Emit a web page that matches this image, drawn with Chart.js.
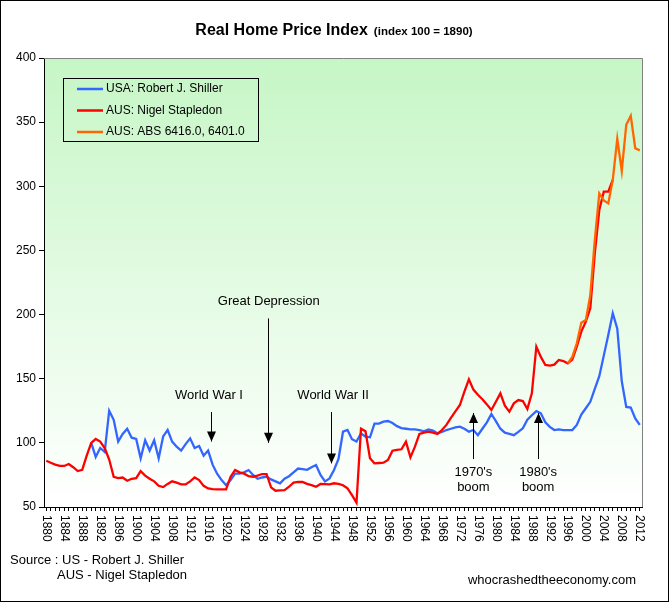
<!DOCTYPE html>
<html>
<head>
<meta charset="utf-8">
<title>Real Home Price Index</title>
<script src="https://cdn.jsdelivr.net/npm/chart.js@4.4.0/dist/chart.umd.min.js"></script>
<style>
  html, body { margin: 0; padding: 0; background: #fff; }
  #chart { display: block; }
</style>
</head>
<body>
<canvas id="chart" width="669" height="602"></canvas>
<script>
'use strict';

// years on the x axis, one category per year
let firstYear = 1880;
let lastYear = 2012;
let labelStep = 4;

// y axis ticks
let yTicks = [50, 100, 150, 200, 250, 300, 350, 400];

// USA: Robert J. Shiller, 1890 - 2012
let usaStart = 1890;
let usaShiller = [
  100, 89, 96, 93, 125, 118, 101, 107, 111, 104,
  103, 88, 102, 94, 102, 88, 105, 110, 101, 97,
  94, 99, 103.5, 96, 97.5, 90, 94, 83, 76, 71,
  67, 71, 76, 76, 77, 78.8, 75, 72, 73, 73.6,
  71.5, 70, 68.5, 72, 74, 77, 80, 79.5, 79, 81,
  82.7, 75, 70, 72.3, 78.8, 87.4, 108.7, 110, 102.8, 101,
  107.4, 104.8, 104.3, 115, 115, 116.5, 117, 115.5, 113, 111.5,
  111, 110.5, 110.5, 110, 109, 110.5, 109.5, 107.5, 108.5, 110,
  111, 112, 112.6, 111, 108.7, 110, 106, 111, 116, 122.5,
  117, 111, 108, 107, 106, 108.5, 111.3, 118, 121.5, 124.8,
  123, 116, 112.5, 110, 110.5, 110, 110, 110, 114, 122,
  127, 132, 142, 152, 168, 184, 201, 189, 148, 128,
  127.5, 119, 114
];

// AUS: Nigel Stapledon, 1880 - 2006
let ausStart = 1880;
let ausStapledon = [
  86, 84.5, 83, 82, 82, 83.5, 81, 78, 79, 90,
  100, 103, 101, 96, 87, 73.5, 72.5, 73, 70.5, 72,
  72.5, 78, 74.5, 72, 70, 66.5, 65.5, 68, 70, 69,
  67.6, 67.6, 70, 73, 71, 66.5, 64.5, 64, 63.8, 63.8,
  63.8, 73.6, 78.8, 77, 76, 74, 73.6, 74.5, 75.7, 75.7,
  65.3, 62.7, 63, 63.2, 65.8, 69, 69.5, 69.5, 68, 67,
  65.8, 68, 67.8, 67.6, 68.5, 68, 67, 64.5, 59.3, 53.4,
  111, 109, 88, 84, 84.3, 84.5, 86.6, 93.9, 94.5, 95,
  101, 88.7, 97, 107, 108, 108.7, 108, 107, 110, 114,
  119.5, 124.5, 129.5, 140, 149.5, 141.5, 137.5, 134, 130, 125.6,
  132, 138.6, 129, 124.3, 130.8, 133.4, 132.6, 126.4, 138.6, 175,
  167, 160.7, 160.2, 161, 164.6, 163.8, 162, 165, 175, 186.7,
  194.5, 205, 247.7, 281.5, 295.8, 295.8, 305
];

// AUS: ABS 6416.0, 6401.0, 1996 - 2012
let absStart = 1996;
let ausAbs = [
  162, 167, 177.6, 193.6, 195.7, 215, 258, 294.5, 289, 286.7,
  305, 337, 312, 348, 355, 329.6, 328
];

let years = [];
for (let y = firstYear; y <= lastYear; y++) {
  years.push(String(y));
}

function padSeries(start, values) {
  let out = [];
  for (let y = firstYear; y <= lastYear; y++) {
    let i = y - start;
    out.push(i >= 0 && i < values.length ? values[i] : null);
  }
  return out;
}

// text notes on the plot: x in years, y in index units
let notes = [
  { lines: ['World War I'], x: 1916.2, y: 137, arrowX: 1916.6, from: 124, to: 101 },
  { lines: ['Great Depression'], x: 1929.5, y: 210.5, arrowX: 1929.3, from: 197, to: 100 },
  { lines: ['World War II'], x: 1943.8, y: 137, arrowX: 1943.4, from: 124, to: 84 },
  { lines: ["1970's", 'boom'], x: 1975, y: 77.3, arrowX: 1975, from: 87.4, to: 123.3 },
  { lines: ["1980's", 'boom'], x: 1989.4, y: 77.3, arrowX: 1989.4, from: 87.4, to: 123.3 }
];

let fontFamily = '"Liberation Sans", Arial, sans-serif';
let blue = '#3366FF';
let red = '#FF0000';
let orange = '#FF6600';
let plotTop = 'rgb(198, 246, 198)';

function yearIndex(year) {
  return year - firstYear;
}

function drawArrow(ctx, x, y1, y2) {
  ctx.beginPath();
  ctx.moveTo(x, y1);
  ctx.lineTo(x, y2);
  ctx.stroke();
  let dir = y2 > y1 ? 1 : -1;
  ctx.beginPath();
  ctx.moveTo(x, y2);
  ctx.lineTo(x - 4.5, y2 - dir * 10);
  ctx.lineTo(x + 4.5, y2 - dir * 10);
  ctx.closePath();
  ctx.fill();
}

let decorPlugin = {
  id: 'decor',
  beforeDraw(chart) {
    let ctx = chart.ctx;
    let a = chart.chartArea;
    ctx.save();
    ctx.fillStyle = '#ffffff';
    ctx.fillRect(0, 0, chart.width, chart.height);
    let g = ctx.createLinearGradient(0, a.top, 0, a.bottom);
    g.addColorStop(0, plotTop);
    g.addColorStop(1, '#ffffff');
    ctx.fillStyle = g;
    ctx.fillRect(a.left, a.top, a.right - a.left, a.bottom - a.top);
    ctx.restore();
  },
  afterDraw(chart) {
    let ctx = chart.ctx;
    let a = chart.chartArea;
    let xs = chart.scales.x;
    let ys = chart.scales.y;
    ctx.save();

    // grey frame on top and right of the plot
    ctx.strokeStyle = '#808080';
    ctx.lineWidth = 1;
    ctx.beginPath();
    ctx.moveTo(a.left, a.top + 0.5);
    ctx.lineTo(a.right + 0.5, a.top + 0.5);
    ctx.lineTo(a.right + 0.5, a.bottom);
    ctx.stroke();

    // title
    ctx.fillStyle = '#000';
    ctx.textBaseline = 'alphabetic';
    let t1 = 'Real Home Price Index';
    let t2 = '(index 100 = 1890)';
    ctx.font = 'bold 16px ' + fontFamily;
    let w1 = ctx.measureText(t1).width;
    ctx.font = 'bold 11.5px ' + fontFamily;
    let w2 = ctx.measureText(t2).width;
    let tx = 334 - (w1 + 6 + w2) / 2;
    ctx.font = 'bold 16px ' + fontFamily;
    ctx.textAlign = 'left';
    ctx.fillText(t1, tx, 35);
    ctx.font = 'bold 11.5px ' + fontFamily;
    ctx.fillText(t2, tx + w1 + 6, 35);

    // x labels, turned to read downwards
    ctx.font = '12px ' + fontFamily;
    ctx.textBaseline = 'middle';
    for (let i = 0; i < years.length; i += labelStep) {
      let x = xs.getPixelForValue(i);
      ctx.save();
      ctx.translate(x, a.bottom + 8);
      ctx.rotate(Math.PI / 2);
      ctx.textAlign = 'left';
      ctx.fillText(years[i], 0, 0);
      ctx.restore();
    }

    // legend box
    let lx = 63, ly = 78, lw = 195, lh = 63;
    ctx.strokeStyle = '#000';
    ctx.lineWidth = 1;
    ctx.strokeRect(lx + 0.5, ly + 0.5, lw, lh);
    ctx.font = '12px ' + fontFamily;
    ctx.textAlign = 'left';
    ctx.textBaseline = 'middle';
    let legendOrder = [0, 1, 2];
    legendOrder.forEach((di, k) => {
      let ds = chart.data.datasets[di];
      let yy = ly + 11 + k * 21.5;
      ctx.strokeStyle = ds.borderColor;
      ctx.lineWidth = 2.5;
      ctx.beginPath();
      ctx.moveTo(lx + 14, yy);
      ctx.lineTo(lx + 40, yy);
      ctx.stroke();
      ctx.fillStyle = '#000';
      ctx.fillText(ds.label, lx + 43, yy);
    });

    // notes with arrows
    ctx.strokeStyle = '#000';
    ctx.fillStyle = '#000';
    ctx.lineWidth = 1;
    ctx.font = '13px ' + fontFamily;
    ctx.textAlign = 'center';
    ctx.textBaseline = 'middle';
    notes.forEach(n => {
      let cx = xs.getPixelForValue(yearIndex(n.x));
      let cy = ys.getPixelForValue(n.y);
      n.lines.forEach((line, k) => {
        ctx.fillText(line, cx, cy + k * 15);
      });
      let ax = Math.round(xs.getPixelForValue(yearIndex(n.arrowX))) + 0.5;
      drawArrow(ctx, ax, ys.getPixelForValue(n.from), ys.getPixelForValue(n.to));
    });

    // source lines
    ctx.font = '13px ' + fontFamily;
    ctx.textAlign = 'left';
    ctx.textBaseline = 'middle';
    ctx.fillText('Source : US - Robert J. Shiller', 10, 560);
    ctx.fillText('AUS - Nigel Stapledon', 57, 575);
    ctx.textAlign = 'right';
    ctx.fillText('whocrashedtheeconomy.com', 636, 580);

    // outer frame
    ctx.strokeStyle = '#000';
    ctx.lineWidth = 1;
    ctx.strokeRect(0.5, 0.5, chart.width - 1, chart.height - 1);
    ctx.restore();
  }
};

let ctx = document.getElementById('chart').getContext('2d');
let myChart = new Chart(ctx, {
  type: 'line',
  data: {
    labels: years,
    datasets: [
      {
        label: 'USA: Robert J. Shiller',
        data: padSeries(usaStart, usaShiller),
        borderColor: blue,
        order: 3
      },
      {
        label: 'AUS: Nigel Stapledon',
        data: padSeries(ausStart, ausStapledon),
        borderColor: red,
        order: 2
      },
      {
        label: 'AUS: ABS 6416.0, 6401.0',
        data: padSeries(absStart, ausAbs),
        borderColor: orange,
        order: 1
      }
    ]
  },
  options: {
    responsive: false,
    animation: false,
    devicePixelRatio: 1,
    layout: { padding: { top: 58, right: 27, bottom: 0, left: 0 } },
    elements: {
      point: { radius: 0 },
      line: { borderWidth: 2.3, tension: 0, fill: false }
    },
    plugins: {
      legend: { display: false },
      title: { display: false },
      tooltip: { enabled: false }
    },
    scales: {
      x: {
        type: 'category',
        offset: true,
        border: { display: true, color: '#000', width: 1 },
        grid: { display: true, drawOnChartArea: false, drawTicks: true, tickLength: 4, color: '#000' },
        ticks: { display: false, autoSkip: false },
        afterFit(scale) { scale.height = 95; }
      },
      y: {
        min: 50,
        max: 400,
        afterBuildTicks(scale) { scale.ticks = yTicks.map(v => ({ value: v })); },
        border: { display: true, color: '#000', width: 1 },
        grid: { display: true, drawOnChartArea: false, drawTicks: true, tickLength: 5, color: '#000' },
        ticks: {
          color: '#000',
          padding: 3,
          font: { family: fontFamily, size: 12 }
        },
        afterFit(scale) { scale.width = 44; }
      }
    }
  },
  plugins: [decorPlugin]
});
</script>
</body>
</html>
